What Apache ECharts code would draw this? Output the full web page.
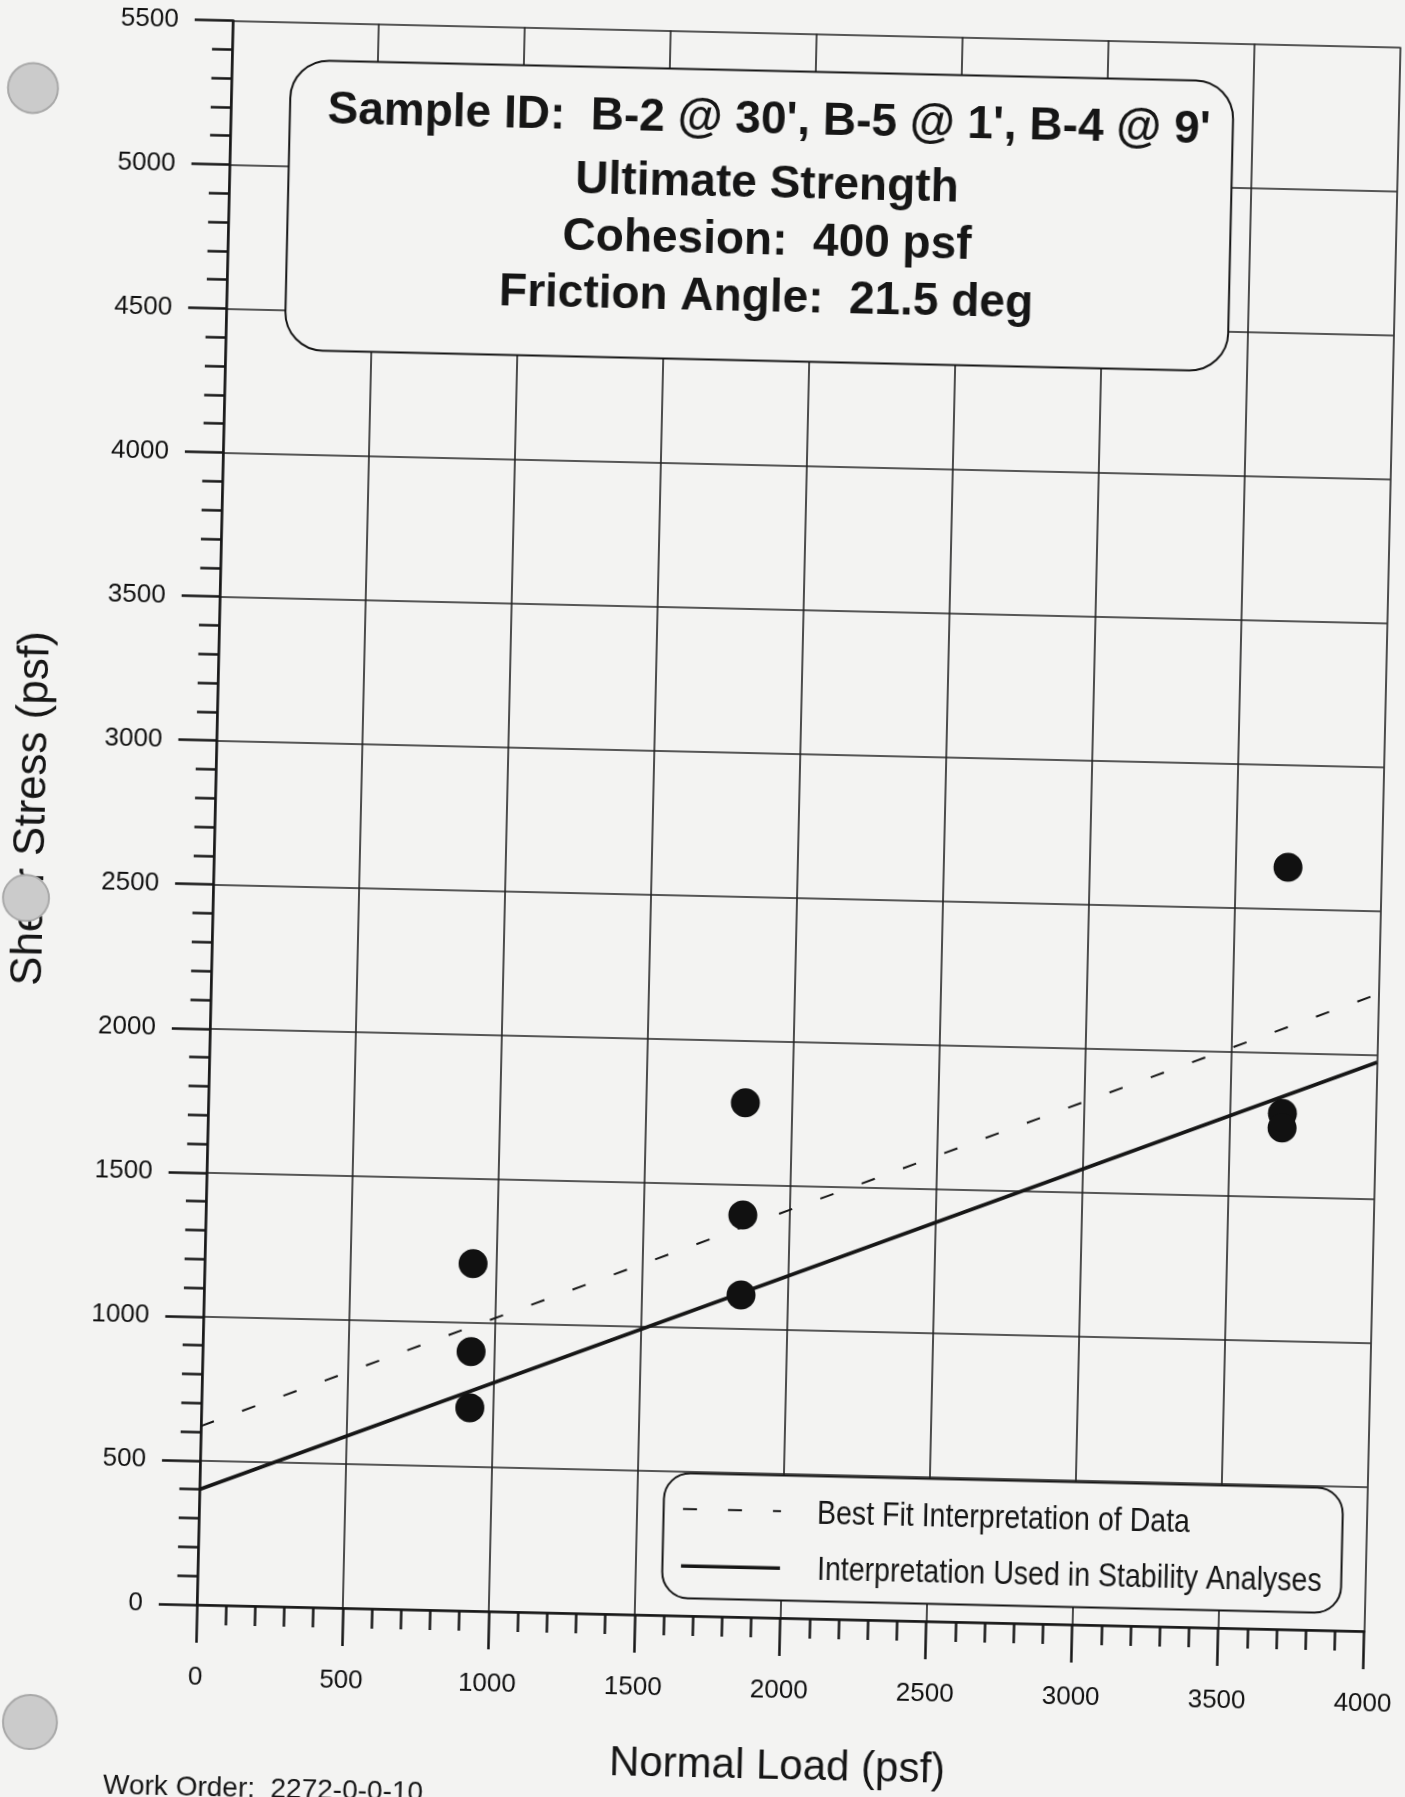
<!DOCTYPE html>
<html><head><meta charset="utf-8">
<script src="https://cdn.jsdelivr.net/npm/echarts@6/dist/echarts.min.js"></script>
<style>
html,body{margin:0;padding:0;width:1405px;height:1797px;overflow:hidden;background:#f3f3f2;}
#wrap{position:absolute;left:-50px;top:-50px;width:1505px;height:1897px;transform:rotate(1.3deg);transform-origin:50% 50%;}
#chart{width:1505px;height:1897px;}
</style></head><body><div id="wrap"><div id="chart"></div></div>
<script>
// ---- data ----
const normalLoad = [920, 920, 920, 1840, 1840, 1840, 3680, 3680, 3680];
const shearStress = [1205, 900, 705, 1785, 1395, 1118, 2645, 1790, 1740];
const bestFitX = [0, 4000];
const bestFitY = [620, 2213];
const usedX = [0, 4000];
const usedY = [400, 1975];
const xRange = [0, 4000, 500];
const yRange = [0, 5500, 500];
const seriesNames = ['Best Fit Interpretation of Data', 'Interpretation Used in Stability Analyses'];
const titleLines = ["Sample ID:  B-2 @ 30', B-5 @ 1', B-4 @ 9'", 'Ultimate Strength', 'Cohesion:  400 psf', 'Friction Angle:  21.5 deg'];
const xName = 'Normal Load (psf)';
const yName = 'Shear Stress (psf)';
const footer = 'Work Order:  2272-0-0-10';

// ---- layout helpers (page coords -> unrotated chart coords) ----
const ANG = 1.3, PAD = 50, PCX = 702.5, PCY = 898.5;
function P(x, y) {
  const t = ANG * Math.PI / 180, dx = x - PCX, dy = y - PCY;
  return [PCX + Math.cos(t) * dx + Math.sin(t) * dy + PAD, PCY - Math.sin(t) * dx + Math.cos(t) * dy + PAD];
}
const PW = 1167.7, PH = 1584.6;
const gc = P(798.4, 825.85);
const FONT = '"Liberation Sans", Arial, sans-serif';
const INK = '#161616';
const PAPER = '#f3f3f2';

function zip(a, b) { return a.map((v, i) => [v, b[i]]); }

const graphics = [];
// title box
(function () {
  const c = P(759.25, 215.5), w = 943, h = 290;
  graphics.push({ type: 'rect', z: 50, shape: { x: c[0] - w / 2, y: c[1] - h / 2, width: w, height: h, r: 38 },
    style: { fill: PAPER, stroke: INK, lineWidth: 2 } });
  const centers = [[769, 121], [767, 185], [767, 242], [766, 299]];
  titleLines.forEach((t, i) => {
    const p = P(centers[i][0], centers[i][1]);
    graphics.push({ type: 'text', z: 51, x: p[0], y: p[1], style: { text: t, fill: INK,
      font: 'bold 46px ' + FONT, align: 'center', verticalAlign: 'middle', textAlign: 'center', textVerticalAlign: 'middle' } });
  });
})();
// legend box
(function () {
  const c = P(1002.5, 1543), w = 679, h = 125;
  graphics.push({ type: 'rect', z: 50, shape: { x: c[0] - w / 2, y: c[1] - h / 2, width: w, height: h, r: 26 },
    style: { fill: PAPER, stroke: INK, lineWidth: 2 } });
  const d = P(683, 1509);
  graphics.push({ type: 'line', z: 51, shape: { x1: d[0], y1: d[1], x2: d[0] + 98, y2: d[1] },
    style: { stroke: INK, lineWidth: 2, lineDash: [14, 31] } });
  const s = P(681, 1566);
  graphics.push({ type: 'line', z: 51, shape: { x1: s[0], y1: s[1], x2: s[0] + 99, y2: s[1] },
    style: { stroke: INK, lineWidth: 3.5 } });
  [[817, 1514], [817, 1570]].forEach((q, i) => {
    const p = P(q[0], q[1]);
    graphics.push({ type: 'text', z: 51, x: p[0], y: p[1], scaleX: 0.84, style: { text: seriesNames[i], fill: INK,
      font: '34px ' + FONT, align: 'left', verticalAlign: 'middle', textAlign: 'left', textVerticalAlign: 'middle' } });
  });
})();
// footer
(function () {
  const p = P(103, 1786);
  graphics.push({ type: 'text', z: 51, x: p[0], y: p[1], style: { text: footer, fill: INK,
    font: '28px ' + FONT, align: 'left', verticalAlign: 'middle', textAlign: 'left', textVerticalAlign: 'middle' } });
})();
// punched holes of the scanned sheet
[[33, 88, 25], [26, 898, 23], [30, 1722, 27]].forEach(h => {
  const p = P(h[0], h[1]);
  graphics.push({ type: 'circle', z: 100, shape: { cx: p[0], cy: p[1], r: h[2] },
    style: { fill: '#cbcbcb', stroke: '#a9a9a9', lineWidth: 2 } });
});

const axisCommon = {
  type: 'value',
  nameLocation: 'middle',
  nameTextStyle: { fontSize: 42, color: INK, fontFamily: FONT },
  axisLine: { show: true, lineStyle: { color: INK, width: 2.5 } },
  axisTick: { show: true, length: 38, lineStyle: { color: INK, width: 2.5 } },
  minorTick: { show: true, splitNumber: 5, length: 20, lineStyle: { color: INK, width: 2.5 } },
  splitLine: { show: true, lineStyle: { color: '#222', width: 1.6 } },
  minorSplitLine: { show: false },
  axisLabel: { fontSize: 26, color: '#111', fontFamily: FONT, formatter: v => String(v) }
};

const option = {
  backgroundColor: PAPER,
  animation: false,
  grid: { left: gc[0] - PW / 2, top: gc[1] - PH / 2, width: PW, height: PH, containLabel: false },
  xAxis: Object.assign({}, axisCommon, {
    min: xRange[0], max: xRange[1], interval: xRange[2],
    name: xName, nameGap: 128,
    axisLabel: Object.assign({}, axisCommon.axisLabel, { margin: 60 })
  }),
  yAxis: Object.assign({}, axisCommon, {
    min: yRange[0], max: yRange[1], interval: yRange[2],
    name: yName, nameGap: 160,
    nameTextStyle: { fontSize: 44, color: INK, fontFamily: FONT },
    axisLabel: Object.assign({}, axisCommon.axisLabel, { margin: 54 })
  }),
  series: [
    { name: seriesNames[0], type: 'line', data: zip(bestFitX, bestFitY), symbol: 'none', silent: true, z: 3,
      lineStyle: { color: INK, width: 2, type: [14, 30] } },
    { name: seriesNames[1], type: 'line', data: zip(usedX, usedY), symbol: 'none', silent: true, z: 3,
      lineStyle: { color: INK, width: 3.6 } },
    { name: 'Test Data', type: 'scatter', data: zip(normalLoad, shearStress), symbol: 'circle', symbolSize: 29, z: 5,
      itemStyle: { color: '#111', opacity: 1 } }
  ],
  graphic: graphics
};
const chart = echarts.init(document.getElementById('chart'), null, { renderer: 'canvas' });
chart.setOption(option);
</script>
</body></html>
